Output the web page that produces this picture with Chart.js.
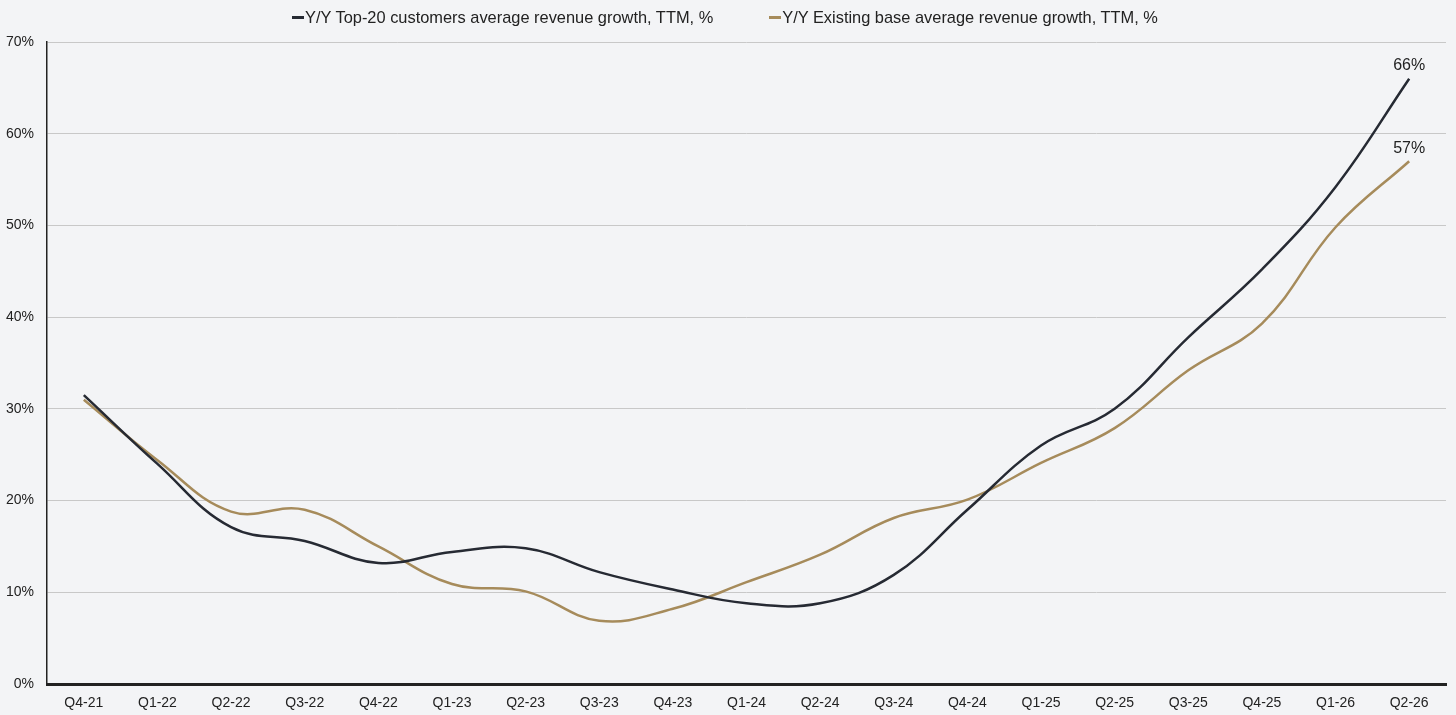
<!DOCTYPE html>
<html lang="en">
<head>
  <meta charset="UTF-8">
  <title>Y/Y average revenue growth, TTM</title>
  <script src="https://cdn.jsdelivr.net/npm/chart.js"></script>
  <style>
    html, body {
      margin: 0;
      padding: 0;
      background: #f3f4f6;
    }
    .wrap {
      width: 1456px;
      height: 715px;
      position: relative;
    }
    #legend {
      position: absolute;
      top: 7px;
      left: 0;
      width: 1450px;
      display: flex;
      justify-content: center;
      gap: 56px;
      font-family: "Liberation Sans", Arial, sans-serif;
      font-size: 16.4px;
      color: #222222;
      line-height: 20px;
    }
    #legend .item {
      display: flex;
      align-items: center;
      white-space: nowrap;
    }
    #legend .mark {
      width: 12px;
      height: 3px;
      margin-right: 1px;
    }
  </style>
</head>
<body>
  <div class="wrap">
    <canvas id="growthChart"></canvas>
    <div id="legend"></div>
  </div>

  <script>
    const quarters = [
      'Q4-21', 'Q1-22', 'Q2-22', 'Q3-22', 'Q4-22', 'Q1-23', 'Q2-23', 'Q3-23', 'Q4-23', 'Q1-24',
      'Q2-24', 'Q3-24', 'Q4-24', 'Q1-25', 'Q2-25', 'Q3-25', 'Q4-25', 'Q1-26', 'Q2-26'
    ];

    // Top-20 customers
    const top20Growth = [
      31.5, 24.0, 17.1, 15.6, 13.2, 14.4, 14.8, 12.2, 10.3, 8.8,
      8.8, 11.9, 19.0, 26.0, 30.0, 37.8, 45.2, 54.2, 66
    ];

    // Existing base
    const baseGrowth = [
      31.0, 24.4, 18.8, 19.0, 15.0, 10.9, 10.1, 6.9, 8.2, 11.1,
      14.1, 18.1, 20.1, 24.1, 27.9, 34.2, 39.3, 49.8, 57
    ];

    const yTicks = [0, 10, 20, 30, 40, 50, 60, 70];

    const FONT = '"Liberation Sans", Arial, sans-serif';

    // подпись последней точки
    const endLabels = {
      id: 'endLabels',
      afterDatasetsDraw(chart) {
        const ctx = chart.ctx;
        ctx.save();
        ctx.font = '16px ' + FONT;
        ctx.fillStyle = '#222222';
        ctx.textAlign = 'center';
        ctx.textBaseline = 'bottom';
        chart.data.datasets.forEach((ds, i) => {
          const meta = chart.getDatasetMeta(i);
          const last = meta.data[meta.data.length - 1];
          const v = ds.data[ds.data.length - 1];
          ctx.fillText(v + '%', last.x, last.y - 5);
        });
        ctx.restore();
      }
    };

    const chart = new Chart(document.getElementById('growthChart'), {
      type: 'line',
      data: {
        labels: quarters,
        datasets: [
          {
            label: 'Y/Y Top-20 customers average revenue growth, TTM, %',
            data: top20Growth,
            borderColor: '#262a33',
            backgroundColor: '#262a33',
            borderWidth: 2.5,
            pointRadius: 0,
            tension: 0.4
          },
          {
            label: 'Y/Y Existing base average revenue growth, TTM, %',
            data: baseGrowth,
            borderColor: '#a68b5b',
            backgroundColor: '#a68b5b',
            borderWidth: 2.5,
            pointRadius: 0,
            tension: 0.4
          }
        ]
      },
      options: {
        responsive: true,
        maintainAspectRatio: false,
        animation: false,
        layout: {
          padding: { left: 4, right: 10, top: 42, bottom: 0 }
        },
        plugins: {
          legend: { display: false },
          tooltip: { enabled: false }
        },
        scales: {
          x: {
            offset: true,
            grid: { display: false },
            border: { color: '#222222', width: 3 },
            afterFit(axis) { axis.height = 31; },
            ticks: {
              color: '#222222',
              padding: 3,
              maxRotation: 0,
              autoSkip: false,
              font: { family: FONT, size: 14 }
            }
          },
          y: {
            min: 0,
            max: 70,
            afterBuildTicks(axis) {
              axis.ticks = yTicks.map(v => ({ value: v }));
            },
            afterFit(axis) { axis.width = 43; },
            grid: {
              color: '#c8c8c8',
              lineWidth: 1,
              drawTicks: false
            },
            border: { color: '#222222', width: 1.5 },
            ticks: {
              color: '#222222',
              padding: 13,
              font: { family: FONT, size: 14 },
              callback: v => v + '%'
            }
          }
        }
      },
      plugins: [endLabels]
    });

    // легенда в HTML
    const legendEl = document.getElementById('legend');
    chart.data.datasets.forEach(ds => {
      const item = document.createElement('div');
      item.className = 'item';
      const mark = document.createElement('span');
      mark.className = 'mark';
      mark.style.background = ds.borderColor;
      const txt = document.createElement('span');
      txt.textContent = ds.label;
      item.appendChild(mark);
      item.appendChild(txt);
      legendEl.appendChild(item);
    });
  </script>
</body>
</html>
